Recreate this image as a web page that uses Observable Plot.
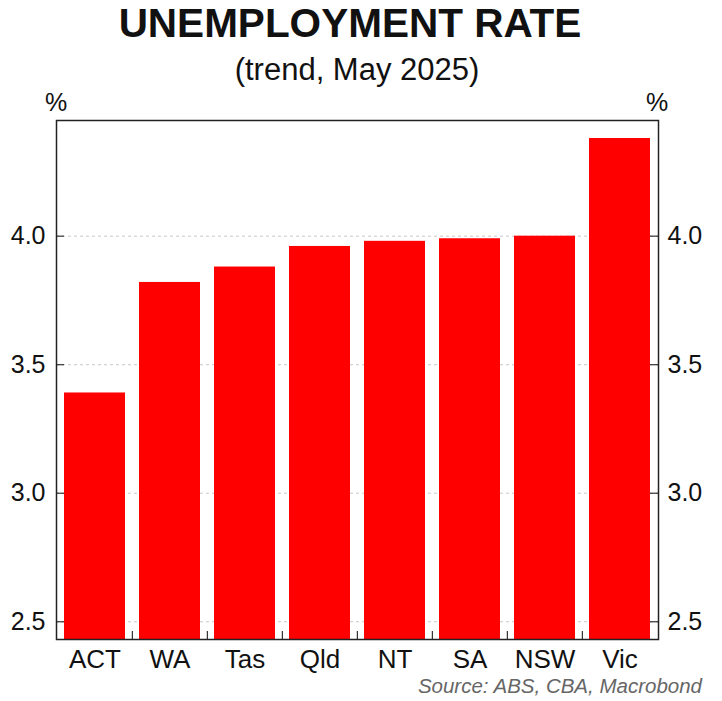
<!DOCTYPE html>
<html>
<head>
<meta charset="utf-8">
<script src="https://cdn.jsdelivr.net/npm/d3@7"></script>
<script src="https://cdn.jsdelivr.net/npm/@observablehq/plot@0.6"></script>
<style>
  html, body { margin: 0; padding: 0; background: #fff; }
  #wrap { position: relative; width: 722px; height: 701px; font-family: "Liberation Sans", Arial, sans-serif; color: #111; }
  .abs { position: absolute; white-space: nowrap; }
  #title { left: -11px; width: 722px; top: 1px; text-align: center; font-weight: bold; font-size: 40.5px; line-height: 44px; }
  #subtitle { left: -4px; width: 722px; top: 52px; text-align: center; font-size: 31px; line-height: 36px; }
  .pct { top: 88px; font-size: 25px; line-height: 28px; width: 40px; text-align: center; }
  #source { right: 20px; top: 674px; font-style: italic; font-size: 20.5px; line-height: 24px; color: #666; }
  svg { position: absolute; left: 0; top: 0; }
</style>
</head>
<body>
<div id="wrap">
  <div id="title" class="abs">UNEMPLOYMENT RATE</div>
  <div id="subtitle" class="abs">(trend, May 2025)</div>
  <div class="abs pct" style="left:36px">%</div>
  <div class="abs pct" style="left:637px">%</div>
  <div id="source" class="abs">Source: ABS, CBA, Macrobond</div>
</div>
<script>
const states = ["ACT", "WA", "Tas", "Qld", "NT", "SA", "NSW", "Vic"];
const rates = [3.39, 3.82, 3.88, 3.96, 3.98, 3.99, 4.00, 4.38];
const yTicks = [2.5, 3.0, 3.5, 4.0];

const yMin = 2.431, yMax = 4.45;
const data = states.map((s, i) => ({state: s, rate: rates[i]}));

const W = 722, H = 701, mt = 120, mb = 62, ml = 56, mr = 64;
const padIn = 0.19, padOut = 0.095;
const plotW = W - ml - mr;
const step = plotW / (states.length - padIn + 2 * padOut);
const tickLen = (yMax - yMin) * 8 / (H - mt - mb);
const tickPx = 8;

const chart = Plot.plot({
  width: W, height: H,
  marginTop: mt, marginBottom: mb, marginLeft: ml, marginRight: mr,
  style: {fontFamily: "'Liberation Sans', Arial, sans-serif", background: "transparent", color: "#111"},
  x: {domain: states, paddingInner: padIn, paddingOuter: padOut},
  y: {domain: [yMin, yMax]},
  marks: [
    Plot.gridY(yTicks, {stroke: "#bbb", strokeOpacity: 1, strokeDasharray: "3,3", strokeWidth: 0.8}),
    Plot.barY(data, {x: "state", y1: yMin, y2: "rate", fill: "#ff0000"}),
    Plot.ruleX(states.slice(1), {x: d => d, dx: -step / 2, y1: yMin, y2: yMin + tickLen, stroke: "#333", strokeWidth: 1.2}),
    Plot.ruleY(yTicks, {insetRight: plotW - tickPx, stroke: "#333", strokeWidth: 1.2}),
    Plot.ruleY(yTicks, {insetLeft: plotW - tickPx, stroke: "#333", strokeWidth: 1.2}),
    Plot.axisY(yTicks, {anchor: "left", tickSize: 0, tickPadding: 11, tickFormat: d3.format(".1f"), fontSize: 25, label: null}),
    Plot.axisY(yTicks, {anchor: "right", tickSize: 0, tickPadding: 9, tickFormat: d3.format(".1f"), fontSize: 25, label: null}),
    Plot.axisX({tickSize: 0, tickPadding: 10, fontSize: 26, label: null}),
    Plot.frame({stroke: "#222", strokeWidth: 1.5})
  ]
});
document.getElementById("wrap").prepend(chart);
</script>
</body>
</html>
